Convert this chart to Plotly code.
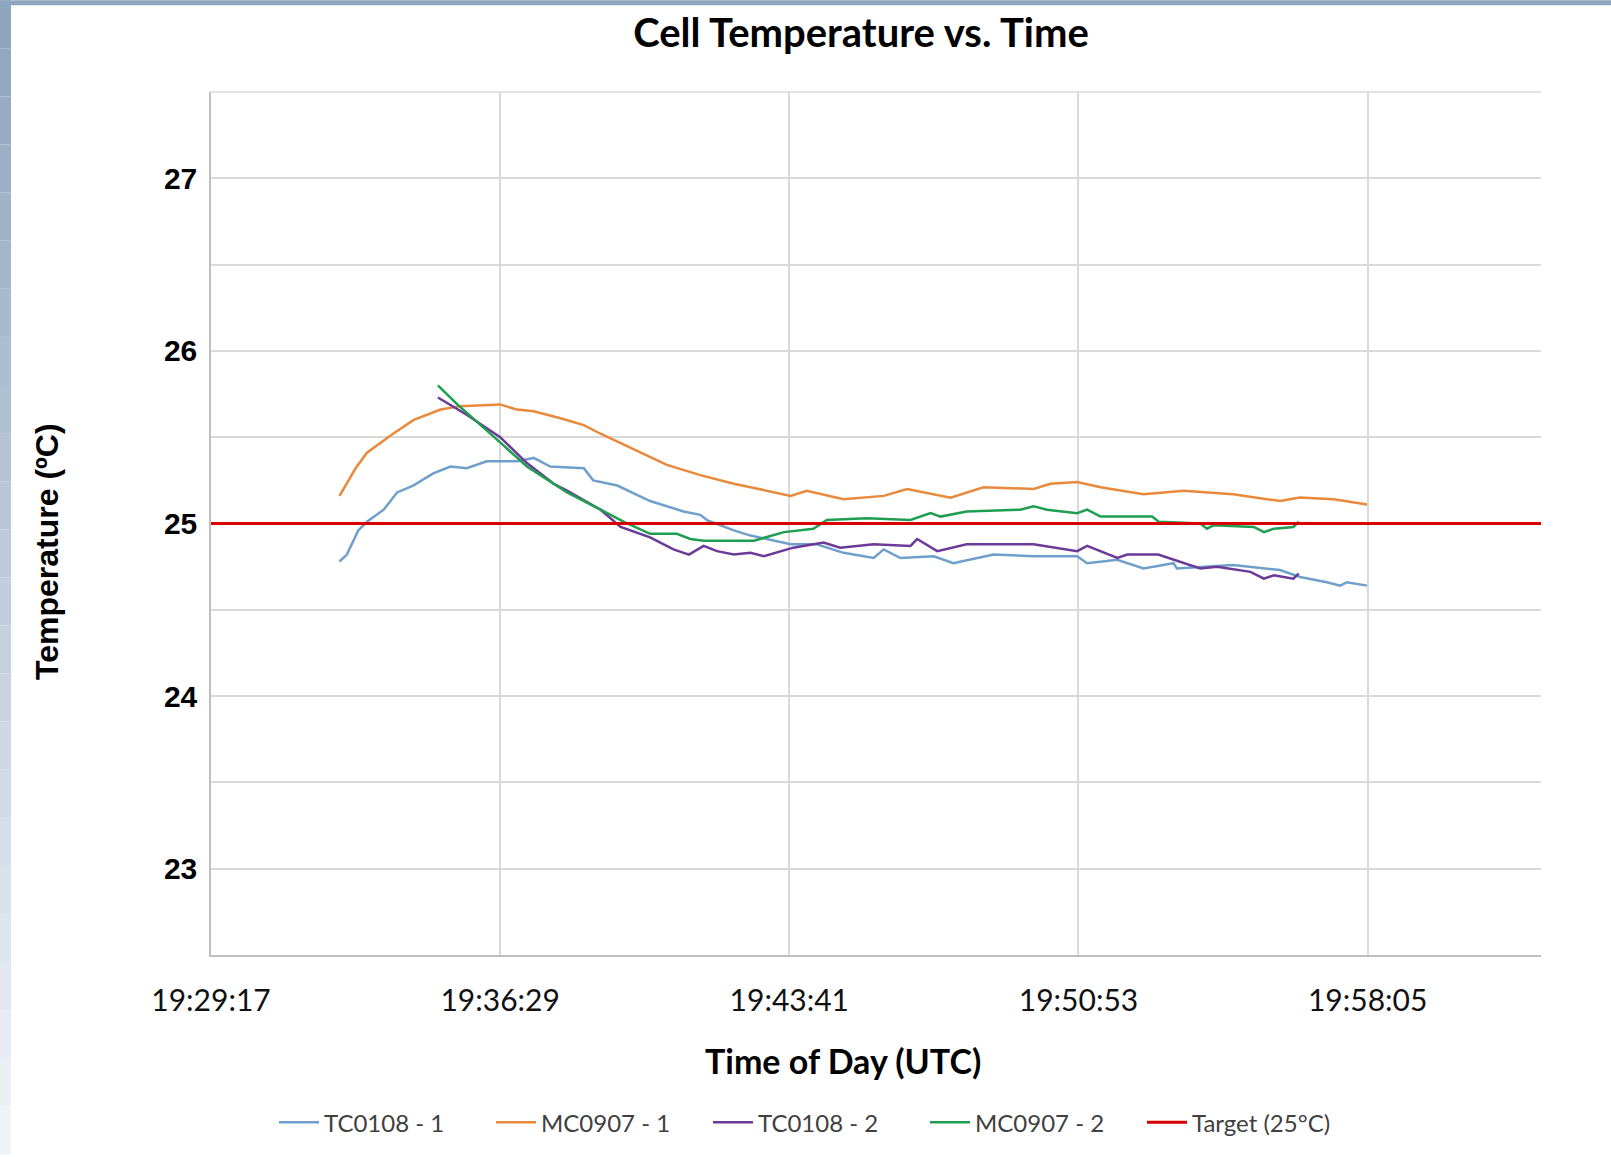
"""
Cell temperature vs. time for two cells in two test runs, with the 25 C target line.
"""

import plotly.graph_objects as go

DAY = "2016-01-01"

# TC0108 - 1
TC1_TIMES = ["19:32:29", "19:32:40", "19:32:57", "19:33:10", "19:33:35", "19:33:55",
             "19:34:19", "19:34:49", "19:35:15", "19:35:39", "19:36:09", "19:36:54",
             "19:37:19", "19:37:44", "19:38:34", "19:38:48", "19:39:24", "19:40:13",
             "19:41:03", "19:41:28", "19:41:38", "19:42:18", "19:42:43", "19:43:43",
             "19:44:22", "19:45:02", "19:45:47", "19:46:02", "19:46:27", "19:47:17",
             "19:47:46", "19:48:46", "19:49:46", "19:50:51", "19:51:06", "19:51:51",
             "19:52:30", "19:53:15", "19:53:20", "19:54:44", "19:55:54", "19:56:24",
             "19:57:04", "19:57:24", "19:57:34", "19:58:04"]
TC1_TEMPS = [24.78, 24.82, 24.96, 25.01, 25.08, 25.18,
             25.22, 25.29, 25.33, 25.32, 25.36, 25.36,
             25.38, 25.33, 25.32, 25.25, 25.22, 25.13,
             25.07, 25.05, 25.02, 24.96, 24.93, 24.88,
             24.88, 24.83, 24.80, 24.85, 24.80, 24.81,
             24.77, 24.82, 24.81, 24.81, 24.77, 24.79,
             24.74, 24.77, 24.74, 24.76, 24.73, 24.69,
             24.66, 24.64, 24.66, 24.64]

# MC0907 - 1
MC1_TIMES = ["19:32:29", "19:32:53", "19:33:10", "19:33:49", "19:34:20", "19:35:00",
             "19:35:29", "19:36:29", "19:36:54", "19:37:19", "19:37:59", "19:38:34",
             "19:38:59", "19:39:48", "19:40:38", "19:41:28", "19:42:18", "19:42:43",
             "19:43:43", "19:44:07", "19:45:02", "19:46:02", "19:46:37", "19:47:42",
             "19:48:31", "19:49:46", "19:50:11", "19:50:51", "19:51:26", "19:52:30",
             "19:53:30", "19:54:44", "19:55:54", "19:56:24", "19:57:14", "19:58:04"]
MC1_TEMPS = [25.16, 25.32, 25.41, 25.52, 25.60, 25.66,
             25.68, 25.69, 25.66, 25.65, 25.61, 25.57,
             25.52, 25.43, 25.34, 25.28, 25.23, 25.21,
             25.16, 25.19, 25.14, 25.16, 25.20, 25.15,
             25.21, 25.20, 25.23, 25.24, 25.21, 25.17,
             25.19, 25.17, 25.13, 25.15, 25.14, 25.11]

# TC0108 - 2
TC2_TIMES = ["19:34:56", "19:35:39", "19:36:29", "19:37:09", "19:37:49", "19:38:09",
             "19:38:59", "19:39:29", "19:40:13", "19:40:48", "19:41:11", "19:41:33",
             "19:41:53", "19:42:18", "19:42:43", "19:43:03", "19:43:47", "19:44:32",
             "19:44:57", "19:45:47", "19:46:42", "19:46:52", "19:47:22", "19:48:06",
             "19:49:46", "19:50:51", "19:51:06", "19:51:51", "19:52:06", "19:52:52",
             "19:53:55", "19:54:20", "19:55:10", "19:55:30", "19:55:45", "19:56:14",
             "19:56:22"]
TC2_TEMPS = [25.73, 25.63, 25.50, 25.35, 25.23, 25.19,
             25.08, 24.98, 24.92, 24.85, 24.82, 24.87,
             24.84, 24.82, 24.83, 24.81, 24.86, 24.89,
             24.86, 24.88, 24.87, 24.91, 24.84, 24.88,
             24.88, 24.84, 24.87, 24.80, 24.82, 24.82,
             24.74, 24.75, 24.72, 24.68, 24.70, 24.68,
             24.71]

# MC0907 - 2
MC2_TIMES = ["19:34:56", "19:35:25", "19:36:29", "19:37:09", "19:37:29", "19:38:09",
             "19:38:59", "19:39:34", "19:40:13", "19:40:53", "19:41:13", "19:41:33",
             "19:42:48", "19:43:33", "19:44:17", "19:44:37", "19:45:37", "19:46:42",
             "19:47:12", "19:47:27", "19:48:06", "19:49:26", "19:49:46", "19:50:06",
             "19:50:51", "19:51:06", "19:51:26", "19:52:43", "19:52:53", "19:53:55",
             "19:54:05", "19:54:15", "19:55:15", "19:55:30", "19:55:45", "19:56:14",
             "19:56:22"]
MC2_TEMPS = [25.80, 25.69, 25.47, 25.33, 25.28, 25.18,
             25.08, 25.01, 24.94, 24.94, 24.91, 24.90,
             24.90, 24.95, 24.97, 25.02, 25.03, 25.02,
             25.06, 25.04, 25.07, 25.08, 25.10, 25.08,
             25.06, 25.08, 25.04, 25.04, 25.01, 25.00,
             24.97, 24.99, 24.98, 24.95, 24.97, 24.98,
             25.01]

TARGET_TIMES = ["19:29:17", "20:02:24"]
TARGET_TEMPS = [25, 25]

SERIES = [
    ("TC0108 - 1", TC1_TIMES, TC1_TEMPS, "#6F9FCB", 2.5),
    ("MC0907 - 1", MC1_TIMES, MC1_TEMPS, "#E8893C", 2.5),
    ("TC0108 - 2", TC2_TIMES, TC2_TEMPS, "#6B3A99", 2.5),
    ("MC0907 - 2", MC2_TIMES, MC2_TEMPS, "#1E9E50", 2.5),
    ("Target (25°C)", TARGET_TIMES, TARGET_TEMPS, "#D90000", 3),
]

Y_TICKS = [23, 24, 25, 26, 27]
X_START = "19:29:17"
X_END = "20:02:24"
X_STEP_MS = 432000  # 7 min 12 s between time labels

W, H = 1611, 1157
L, R, T, B = 211, 70, 92, 200
PW, PH = W - L - R, H - T - B

GRID = "#D9D9D9"
TEXT_FONT = "Lato"


def px_x(p):
    return (p - L) / PW


def px_y(p):
    return (H - B - p) / PH


fig = go.Figure()
for name, times, temps, color, width in SERIES:
    fig.add_trace(go.Scatter(x=[f"{DAY} {t}" for t in times], y=temps,
                             name=name, mode="lines",
                             line=dict(color=color, width=width)))

# blue-grey gradient frame on the left and top edge
shapes = []
n_bands = 24
top_c = (0x8F, 0xA6, 0xC0)
bot_c = (0xEE, 0xF3, 0xF8)
for i in range(n_bands):
    f = i / (n_bands - 1)
    c = tuple(int(a + (b - a) * f) for a, b in zip(top_c, bot_c))
    y0 = i * H / n_bands
    y1 = (i + 1) * H / n_bands
    shapes.append(dict(type="rect", xref="paper", yref="paper",
                       x0=px_x(0), x1=px_x(11), y0=px_y(y1), y1=px_y(y0),
                       line_width=0, fillcolor="rgb(%d,%d,%d)" % c))
shapes.append(dict(type="rect", xref="paper", yref="paper",
                   x0=px_x(0), x1=px_x(W), y0=px_y(5), y1=px_y(0),
                   line_width=0, fillcolor="#8FA6C0"))
# top border of the plot area
shapes.append(dict(type="line", xref="paper", yref="paper", x0=0, x1=1, y0=1, y1=1,
                   line=dict(color=GRID, width=1.5), layer="below"))

fig.update_layout(
    width=W, height=H,
    margin=dict(l=L, r=R, t=T, b=B),
    paper_bgcolor="white", plot_bgcolor="white",
    title=dict(text="<b>Cell Temperature vs. Time</b>", x=861 / W, xanchor="center",
               y=1 - 33 / H, yanchor="middle",
               font=dict(family=TEXT_FONT, size=40, color="black")),
    xaxis=dict(type="date", range=[f"{DAY} {X_START}", f"{DAY} {X_END}"],
               tick0=f"{DAY} {X_START}", dtick=X_STEP_MS, tickformat="%H:%M:%S",
               showgrid=True, gridcolor=GRID, gridwidth=1.5,
               showline=True, linecolor="#BFBFBF", linewidth=1.5,
               ticks="", ticklabelstandoff=18,
               tickfont=dict(family=TEXT_FONT, size=30, color="#111111")),
    yaxis=dict(range=[22.5, 27.5], tickvals=Y_TICKS,
               showgrid=True, gridcolor=GRID, gridwidth=1.5,
               minor=dict(tickmode="linear", tick0=22.5, dtick=0.5,
                          showgrid=True, gridcolor=GRID, gridwidth=1.5),
               showline=True, linecolor="#BFBFBF", linewidth=1.5,
               zeroline=False, ticks="", ticklabelstandoff=6,
               tickfont=dict(family="Liberation Sans", size=30, color="black",
                             weight="bold")),
    legend=dict(orientation="h", x=px_x(274), xanchor="left",
                y=px_y(1125), yanchor="middle",
                font=dict(family=TEXT_FONT, size=24, color="#404040"),
                entrywidth=162, entrywidthmode="pixels",
                itemwidth=40, tracegroupgap=0),
    annotations=[
        dict(text="<b>Time of Day (UTC)</b>", xref="paper", yref="paper",
             x=px_x(843), y=px_y(1063), xanchor="center", yanchor="middle",
             showarrow=False,
             font=dict(family=TEXT_FONT, size=34, color="black")),
        dict(text="<b>Temperature (ºC)</b>", xref="paper", yref="paper",
             x=px_x(47), y=px_y(553), xanchor="center", yanchor="middle",
             showarrow=False, textangle=-90,
             font=dict(family="Liberation Sans", size=32, color="black")),
    ],
    shapes=shapes,
    showlegend=True,
)

# the page body has a default 8px margin; drop it so the figure sits at 0,0
fig.write_html("out.html", config={"displayModeBar": False},
               post_script="document.body.style.margin = '0';")
